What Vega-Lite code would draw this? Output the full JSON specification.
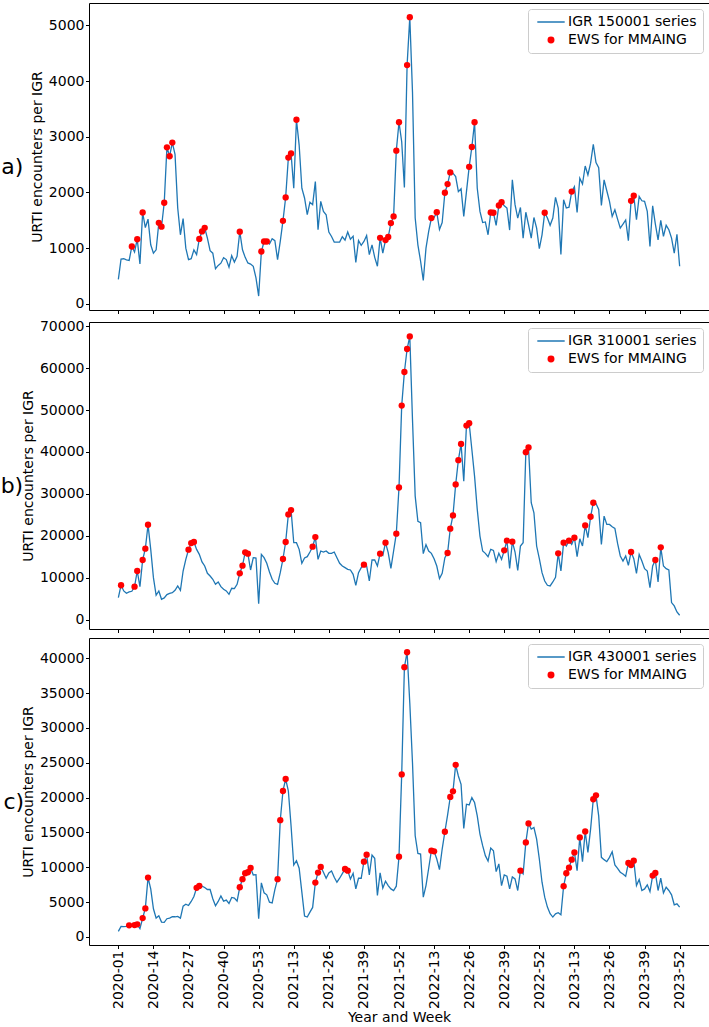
{
  "$schema": "https://vega.github.io/schema/vega-lite/v6.json",
  "padding": {"left": 0, "top": 2, "right": 2, "bottom": 0},
  "spacing": 3,
  "config": {
    "font": "DejaVu Sans",
    "view": {"stroke": "black", "strokeWidth": 1},
    "axis": {"labelFontSize": 14, "titleFontSize": 14, "titleFontWeight": "normal", "labelColor": "black", "titleColor": "black", "tickColor": "black", "domain": false, "grid": false, "tickSize": 3.5, "labelPadding": 1.5, "titlePadding": 4, "labelFont": "DejaVu Sans", "titleFont": "DejaVu Sans"},
    "axisY": {"format": "d"},
    "axisX": {"titlePadding": 2},
    "title": {"fontWeight": "normal", "color": "black", "font": "DejaVu Sans", "fontSize": 22},
    "legend": {"orient": "top-right", "offset": 6, "strokeColor": "#cccccc", "cornerRadius": 3, "fillColor": "white", "padding": 6, "labelFontSize": 14, "labelFont": "DejaVu Sans", "labelColor": "black", "symbolSize": 30, "symbolStrokeWidth": 1.5, "rowPadding": 4, "symbolOffset": 10, "labelOffset": 10}
  },
  "data": {"values": [
    {"w":"2020-01","a":440,"b":5240,"c":810},
    {"w":"2020-02","a":805,"b":8180,"c":1520,"eb":1},
    {"w":"2020-03","a":810,"b":6830,"c":1480},
    {"w":"2020-04","a":790,"b":6270,"c":1520},
    {"w":"2020-05","a":780,"b":6590,"c":1670,"ec":1},
    {"w":"2020-06","a":1030,"b":6750,"c":1620,"ea":1},
    {"w":"2020-07","a":930,"b":7860,"c":1710,"eb":1,"ec":1},
    {"w":"2020-08","a":1160,"b":11590,"c":1810,"ea":1,"eb":1,"ec":1},
    {"w":"2020-09","a":715,"b":7860,"c":1190},
    {"w":"2020-10","a":1640,"b":14210,"c":2710,"ea":1,"eb":1,"ec":1},
    {"w":"2020-11","a":1370,"b":16910,"c":4100,"eb":1,"ec":1},
    {"w":"2020-12","a":1520,"b":22630,"c":8520,"eb":1,"ec":1},
    {"w":"2020-13","a":1060,"b":16750,"c":6900},
    {"w":"2020-14","a":910,"b":10000,"c":4050},
    {"w":"2020-15","a":970,"b":5800,"c":2710},
    {"w":"2020-16","a":1455,"b":6830,"c":3050,"ea":1},
    {"w":"2020-17","a":1385,"b":4840,"c":2140,"ea":1},
    {"w":"2020-18","a":1815,"b":5160,"c":2100,"ea":1},
    {"w":"2020-19","a":2810,"b":5960,"c":2620,"ea":1},
    {"w":"2020-20","a":2650,"b":6270,"c":2710,"ea":1},
    {"w":"2020-21","a":2895,"b":6430,"c":2900,"ea":1},
    {"w":"2020-22","a":2685,"b":6990,"c":2900},
    {"w":"2020-23","a":1720,"b":8020,"c":2950},
    {"w":"2020-24","a":1240,"b":6990,"c":2710},
    {"w":"2020-25","a":1530,"b":11590,"c":4430},
    {"w":"2020-26","a":1000,"b":14370,"c":4710},
    {"w":"2020-27","a":795,"b":16670,"c":4520,"eb":1},
    {"w":"2020-28","a":810,"b":18260,"c":5100,"eb":1},
    {"w":"2020-29","a":970,"b":18500,"c":5810,"eb":1},
    {"w":"2020-30","a":885,"b":16750,"c":7050,"ec":1},
    {"w":"2020-31","a":1165,"b":15560,"c":7330,"ea":1,"ec":1},
    {"w":"2020-32","a":1300,"b":13740,"c":7290,"ea":1},
    {"w":"2020-33","a":1365,"b":12780,"c":7100,"ea":1},
    {"w":"2020-34","a":1180,"b":11040,"c":6810},
    {"w":"2020-35","a":955,"b":10400,"c":6810},
    {"w":"2020-36","a":910,"b":9610,"c":5480},
    {"w":"2020-37","a":630,"b":8420,"c":4480},
    {"w":"2020-38","a":690,"b":8970,"c":5100},
    {"w":"2020-39","a":730,"b":7860,"c":5900},
    {"w":"2020-40","a":830,"b":7230,"c":5140},
    {"w":"2020-41","a":795,"b":6830,"c":5290},
    {"w":"2020-42","a":660,"b":6030,"c":4810},
    {"w":"2020-43","a":865,"b":7460,"c":5670},
    {"w":"2020-44","a":750,"b":7380,"c":5570},
    {"w":"2020-45","a":855,"b":8420,"c":5140},
    {"w":"2020-46","a":1295,"b":11040,"c":7140,"ea":1,"eb":1,"ec":1},
    {"w":"2020-47","a":970,"b":12860,"c":8290,"eb":1,"ec":1},
    {"w":"2020-48","a":835,"b":16040,"c":9140,"eb":1,"ec":1},
    {"w":"2020-49","a":735,"b":15720,"c":9290,"eb":1,"ec":1},
    {"w":"2020-50","a":715,"b":11830,"c":9900,"ec":1},
    {"w":"2020-51","a":675,"b":14770,"c":8900},
    {"w":"2020-52","a":465,"b":14690,"c":8950},
    {"w":"2020-53","a":140,"b":3810,"c":2620},
    {"w":"2021-01","a":940,"b":15560,"c":7760,"ea":1},
    {"w":"2021-02","a":1120,"b":14770,"c":6330,"ea":1},
    {"w":"2021-03","a":1120,"b":13420,"c":6050,"ea":1},
    {"w":"2021-04","a":1075,"b":11350,"c":5000},
    {"w":"2021-05","a":1170,"b":9610,"c":4900},
    {"w":"2021-06","a":1135,"b":8650,"c":6810},
    {"w":"2021-07","a":795,"b":8420,"c":8290,"ec":1},
    {"w":"2021-08","a":1120,"b":11200,"c":16760,"ec":1},
    {"w":"2021-09","a":1490,"b":14450,"c":20950,"ea":1,"eb":1,"ec":1},
    {"w":"2021-10","a":1910,"b":18500,"c":22670,"ea":1,"eb":1,"ec":1},
    {"w":"2021-11","a":2625,"b":25090,"c":20950,"ea":1,"eb":1},
    {"w":"2021-12","a":2700,"b":26120,"c":15950,"ea":1,"eb":1},
    {"w":"2021-13","a":2075,"b":18340,"c":10330},
    {"w":"2021-14","a":3305,"b":18340,"c":10950,"ea":1},
    {"w":"2021-15","a":2850,"b":16750,"c":9860},
    {"w":"2021-16","a":2075,"b":13420,"c":6430},
    {"w":"2021-17","a":1900,"b":14690,"c":3000},
    {"w":"2021-18","a":1600,"b":15010,"c":2860},
    {"w":"2021-19","a":1825,"b":16120,"c":3570},
    {"w":"2021-20","a":1780,"b":17390,"c":4240,"eb":1},
    {"w":"2021-21","a":2195,"b":19690,"c":7810,"eb":1,"ec":1},
    {"w":"2021-22","a":1330,"b":14370,"c":9240,"ec":1},
    {"w":"2021-23","a":1840,"b":16360,"c":10050,"ec":1},
    {"w":"2021-24","a":1660,"b":16120,"c":9290},
    {"w":"2021-25","a":1600,"b":16360,"c":8430},
    {"w":"2021-26","a":1290,"b":15800,"c":9190},
    {"w":"2021-27","a":1210,"b":15800,"c":9480},
    {"w":"2021-28","a":1110,"b":16120,"c":8570},
    {"w":"2021-29","a":1110,"b":14770,"c":7860},
    {"w":"2021-30","a":1110,"b":13420,"c":8430},
    {"w":"2021-31","a":1205,"b":12780,"c":9100},
    {"w":"2021-32","a":1145,"b":12390,"c":9760,"ec":1},
    {"w":"2021-33","a":1290,"b":11990,"c":9520,"ec":1},
    {"w":"2021-34","a":1160,"b":11830,"c":8330},
    {"w":"2021-35","a":1215,"b":10800,"c":9140},
    {"w":"2021-36","a":745,"b":8180,"c":6900},
    {"w":"2021-37","a":1135,"b":11200,"c":8430},
    {"w":"2021-38","a":1050,"b":12390,"c":8430},
    {"w":"2021-39","a":1120,"b":13100,"c":10810,"eb":1,"ec":1},
    {"w":"2021-40","a":1225,"b":12780,"c":11810,"ec":1},
    {"w":"2021-41","a":885,"b":9210,"c":8900},
    {"w":"2021-42","a":1060,"b":14210,"c":11760},
    {"w":"2021-43","a":835,"b":14210,"c":11290},
    {"w":"2021-44","a":675,"b":12780,"c":5950},
    {"w":"2021-45","a":1185,"b":15720,"c":9190,"ea":1,"eb":1},
    {"w":"2021-46","a":910,"b":15320,"c":7000},
    {"w":"2021-47","a":1145,"b":18340,"c":8000,"ea":1,"eb":1},
    {"w":"2021-48","a":1200,"b":15960,"c":7380,"ea":1},
    {"w":"2021-49","a":1450,"b":12230,"c":6900,"ea":1},
    {"w":"2021-50","a":1570,"b":16360,"c":6670,"ea":1},
    {"w":"2021-51","a":2750,"b":20490,"c":7290,"ea":1,"eb":1},
    {"w":"2021-52","a":3260,"b":31520,"c":11520,"ea":1,"eb":1,"ec":1},
    {"w":"2022-01","a":2910,"b":51050,"c":23330,"eb":1,"ec":1},
    {"w":"2022-02","a":2090,"b":59070,"c":38710,"eb":1,"ec":1},
    {"w":"2022-03","a":4285,"b":64550,"c":40860,"ea":1,"eb":1,"ec":1},
    {"w":"2022-04","a":5145,"b":67570,"c":33570,"ea":1,"eb":1},
    {"w":"2022-05","a":3805,"b":47720,"c":25000},
    {"w":"2022-06","a":1540,"b":29460,"c":14520},
    {"w":"2022-07","a":1060,"b":23420,"c":12000},
    {"w":"2022-08","a":765,"b":23100,"c":11900},
    {"w":"2022-09","a":420,"b":15720,"c":5710},
    {"w":"2022-10","a":1000,"b":17870,"c":7380},
    {"w":"2022-11","a":1300,"b":16360,"c":9860},
    {"w":"2022-12","a":1540,"b":15800,"c":12380,"ea":1,"ec":1},
    {"w":"2022-13","a":1550,"b":14530,"c":12290,"ec":1},
    {"w":"2022-14","a":1645,"b":12780,"c":11190,"ea":1},
    {"w":"2022-15","a":1335,"b":9770,"c":9670},
    {"w":"2022-16","a":1460,"b":11040,"c":12620},
    {"w":"2022-17","a":1995,"b":14770,"c":15100,"ea":1,"ec":1},
    {"w":"2022-18","a":2150,"b":15880,"c":17500,"ea":1,"eb":1},
    {"w":"2022-19","a":2360,"b":21680,"c":20100,"ea":1,"eb":1,"ec":1},
    {"w":"2022-20","a":2345,"b":24850,"c":20900,"eb":1,"ec":1},
    {"w":"2022-21","a":2285,"b":32240,"c":24700,"eb":1,"ec":1},
    {"w":"2022-22","a":2015,"b":38030,"c":23100,"eb":1},
    {"w":"2022-23","a":2065,"b":41920,"c":21900,"eb":1},
    {"w":"2022-24","a":1570,"b":33030,"c":15570},
    {"w":"2022-25","a":2015,"b":46290,"c":19050,"eb":1},
    {"w":"2022-26","a":2460,"b":46850,"c":18950,"ea":1,"eb":1},
    {"w":"2022-27","a":2815,"b":40570,"c":20000,"ea":1},
    {"w":"2022-28","a":3260,"b":34220,"c":19290,"ea":1},
    {"w":"2022-29","a":2075,"b":26280,"c":17380},
    {"w":"2022-30","a":1660,"b":19930,"c":14760},
    {"w":"2022-31","a":1460,"b":16360,"c":13100},
    {"w":"2022-32","a":1470,"b":15800,"c":11670},
    {"w":"2022-33","a":1240,"b":15010,"c":10900},
    {"w":"2022-34","a":1640,"b":16750,"c":12760,"ea":1},
    {"w":"2022-35","a":1635,"b":16510,"c":12380,"ea":1},
    {"w":"2022-36","a":1410,"b":13820,"c":9380},
    {"w":"2022-37","a":1765,"b":15800,"c":10480,"ea":1},
    {"w":"2022-38","a":1825,"b":14370,"c":7380,"ea":1},
    {"w":"2022-39","a":1760,"b":16510,"c":8900,"eb":1},
    {"w":"2022-40","a":1720,"b":18820,"c":8710,"eb":1},
    {"w":"2022-41","a":1325,"b":12230,"c":6900},
    {"w":"2022-42","a":2225,"b":18580,"c":8620,"eb":1},
    {"w":"2022-43","a":1780,"b":16120,"c":8330},
    {"w":"2022-44","a":1540,"b":11750,"c":6670},
    {"w":"2022-45","a":1730,"b":17550,"c":9520,"ec":1},
    {"w":"2022-46","a":1180,"b":18340,"c":9050},
    {"w":"2022-47","a":1645,"b":39940,"c":13570,"eb":1,"ec":1},
    {"w":"2022-48","a":1420,"b":41050,"c":16290,"eb":1,"ec":1},
    {"w":"2022-49","a":1180,"b":27870,"c":15480},
    {"w":"2022-50","a":1550,"b":25490,"c":15710},
    {"w":"2022-51","a":1360,"b":17550,"c":14050},
    {"w":"2022-52","a":990,"b":14530,"c":11190},
    {"w":"2023-01","a":1240,"b":11200,"c":7860},
    {"w":"2023-02","a":1635,"b":9210,"c":5710,"ea":1},
    {"w":"2023-03","a":1540,"b":8180,"c":4290},
    {"w":"2023-04","a":1410,"b":8020,"c":3330},
    {"w":"2023-05","a":1540,"b":8970,"c":2860},
    {"w":"2023-06","a":1910,"b":10080,"c":3330},
    {"w":"2023-07","a":1720,"b":15800,"c":3480,"eb":1},
    {"w":"2023-08","a":885,"b":11590,"c":3190},
    {"w":"2023-09","a":1870,"b":18340,"c":7290,"eb":1,"ec":1},
    {"w":"2023-10","a":1720,"b":17550,"c":9140,"ec":1},
    {"w":"2023-11","a":1735,"b":18820,"c":9950,"eb":1,"ec":1},
    {"w":"2023-12","a":2015,"b":17950,"c":11100,"ea":1,"ec":1},
    {"w":"2023-13","a":2105,"b":19530,"c":12140,"eb":1,"ec":1},
    {"w":"2023-14","a":1640,"b":15010,"c":9520},
    {"w":"2023-15","a":2255,"b":19290,"c":14290,"ec":1},
    {"w":"2023-16","a":2150,"b":17550,"c":10810},
    {"w":"2023-17","a":2475,"b":22470,"c":15140,"eb":1,"ec":1},
    {"w":"2023-18","a":2315,"b":19530,"c":12140},
    {"w":"2023-19","a":2525,"b":24530,"c":15480,"eb":1},
    {"w":"2023-20","a":2865,"b":27870,"c":19760,"eb":1,"ec":1},
    {"w":"2023-21","a":2535,"b":27710,"c":20330,"ec":1},
    {"w":"2023-22","a":2445,"b":26280,"c":17380},
    {"w":"2023-23","a":1765,"b":17950,"c":11430},
    {"w":"2023-24","a":2225,"b":24690,"c":11100},
    {"w":"2023-25","a":2030,"b":22710,"c":10810},
    {"w":"2023-26","a":1840,"b":22710,"c":11430},
    {"w":"2023-27","a":1570,"b":22150,"c":12240},
    {"w":"2023-28","a":1690,"b":21760,"c":10330},
    {"w":"2023-29","a":1520,"b":18180,"c":9860},
    {"w":"2023-30","a":1360,"b":15170,"c":9290},
    {"w":"2023-31","a":1430,"b":13970,"c":9050},
    {"w":"2023-32","a":1505,"b":15170,"c":8710},
    {"w":"2023-33","a":1135,"b":12940,"c":10620,"ec":1},
    {"w":"2023-34","a":1850,"b":16120,"c":10330,"ea":1,"eb":1,"ec":1},
    {"w":"2023-35","a":1940,"b":14530,"c":10950,"ea":1,"ec":1},
    {"w":"2023-36","a":1510,"b":11040,"c":7380},
    {"w":"2023-37","a":1930,"b":15560,"c":8240},
    {"w":"2023-38","a":1850,"b":13970,"c":6670},
    {"w":"2023-39","a":1840,"b":12150,"c":6900},
    {"w":"2023-40","a":1660,"b":11590,"c":7480},
    {"w":"2023-41","a":1030,"b":7620,"c":6520},
    {"w":"2023-42","a":1760,"b":12780,"c":8810,"ec":1},
    {"w":"2023-43","a":1430,"b":14210,"c":9190,"eb":1,"ec":1},
    {"w":"2023-44","a":1150,"b":8970,"c":6670},
    {"w":"2023-45","a":1500,"b":17230,"c":8430,"eb":1},
    {"w":"2023-46","a":1210,"b":12780,"c":6330},
    {"w":"2023-47","a":1410,"b":12150,"c":7140},
    {"w":"2023-48","a":1330,"b":11830,"c":6670},
    {"w":"2023-49","a":1180,"b":4050,"c":6050},
    {"w":"2023-50","a":910,"b":3260,"c":4620},
    {"w":"2023-51","a":1250,"b":1830,"c":4760},
    {"w":"2023-52","a":675,"b":1030,"c":4290}
  ]},
  "resolve": {"scale": {"color": "independent", "shape": "independent"}, "legend": {"color": "independent", "shape": "independent"}},
  "vconcat": [
    {
      "width": 620,
      "height": 307,
      "title": {"text": "a)", "orient": "left", "angle": 0, "anchor": "middle", "offset": -4},
      "encoding": {
        "x": {"field": "w", "type": "ordinal", "scale": {"type": "point", "range": [28, 592]},
              "axis": {"labels": false, "title": null, "values": ["2020-01","2020-14","2020-27","2020-40","2020-53","2021-13","2021-26","2021-39","2021-52","2022-13","2022-26","2022-39","2022-52","2023-13","2023-26","2023-39","2023-52"]}},
        "y": {"field": "a", "type": "quantitative", "scale": {"domain": [-110, 5400], "nice": false, "zero": false},
              "axis": {"values": [0, 1000, 2000, 3000, 4000, 5000], "title": "URTI encounters per IGR"}}
      },
      "layer": [
        {"mark": {"type": "line", "strokeWidth": 1.3},
         "encoding": {"color": {"datum": "IGR 150001 series", "scale": {"domain": ["IGR 150001 series", "EWS for MMAING"], "range": ["#1f77b4", "red"]}, "legend": {"title": null}}}},
        {"transform": [{"filter": {"field": "ea", "equal": 1}}],
         "mark": {"type": "point", "filled": true, "size": 40, "opacity": 1},
         "encoding": {"color": {"datum": "EWS for MMAING"},
                      "shape": {"datum": "EWS for MMAING", "scale": {"domain": ["IGR 150001 series", "EWS for MMAING"], "range": ["M-5,0H5", "circle"]}, "legend": {"title": null}}}}
      ]
    },
    {
      "width": 620,
      "height": 307,
      "title": {"text": "b)", "orient": "left", "angle": 0, "anchor": "middle", "offset": -13},
      "encoding": {
        "x": {"field": "w", "type": "ordinal", "scale": {"type": "point", "range": [28, 592]},
              "axis": {"labels": false, "title": null, "values": ["2020-01","2020-14","2020-27","2020-40","2020-53","2021-13","2021-26","2021-39","2021-52","2022-13","2022-26","2022-39","2022-52","2023-13","2023-26","2023-39","2023-52"]}},
        "y": {"field": "b", "type": "quantitative", "scale": {"domain": [-2250, 71000], "nice": false, "zero": false},
              "axis": {"values": [0, 10000, 20000, 30000, 40000, 50000, 60000, 70000], "title": "URTI encounters per IGR"}}
      },
      "layer": [
        {"mark": {"type": "line", "strokeWidth": 1.3},
         "encoding": {"color": {"datum": "IGR 310001 series", "scale": {"domain": ["IGR 310001 series", "EWS for MMAING"], "range": ["#1f77b4", "red"]}, "legend": {"title": null}}}},
        {"transform": [{"filter": {"field": "eb", "equal": 1}}],
         "mark": {"type": "point", "filled": true, "size": 40, "opacity": 1},
         "encoding": {"color": {"datum": "EWS for MMAING"},
                      "shape": {"datum": "EWS for MMAING", "scale": {"domain": ["IGR 310001 series", "EWS for MMAING"], "range": ["M-5,0H5", "circle"]}, "legend": {"title": null}}}}
      ]
    },
    {
      "width": 620,
      "height": 307,
      "title": {"text": "c)", "orient": "left", "angle": 0, "anchor": "middle", "offset": -13},
      "encoding": {
        "x": {"field": "w", "type": "ordinal", "scale": {"type": "point", "range": [28, 592]},
              "axis": {"labelAngle": 270, "title": "Year and Week", "values": ["2020-01","2020-14","2020-27","2020-40","2020-53","2021-13","2021-26","2021-39","2021-52","2022-13","2022-26","2022-39","2022-52","2023-13","2023-26","2023-39","2023-52"]}},
        "y": {"field": "c", "type": "quantitative", "scale": {"domain": [-1150, 42900], "nice": false, "zero": false},
              "axis": {"values": [0, 5000, 10000, 15000, 20000, 25000, 30000, 35000, 40000], "title": "URTI encounters per IGR"}}
      },
      "layer": [
        {"mark": {"type": "line", "strokeWidth": 1.3},
         "encoding": {"color": {"datum": "IGR 430001 series", "scale": {"domain": ["IGR 430001 series", "EWS for MMAING"], "range": ["#1f77b4", "red"]}, "legend": {"title": null}}}},
        {"transform": [{"filter": {"field": "ec", "equal": 1}}],
         "mark": {"type": "point", "filled": true, "size": 40, "opacity": 1},
         "encoding": {"color": {"datum": "EWS for MMAING"},
                      "shape": {"datum": "EWS for MMAING", "scale": {"domain": ["IGR 430001 series", "EWS for MMAING"], "range": ["M-5,0H5", "circle"]}, "legend": {"title": null}}}}
      ]
    }
  ]
}
